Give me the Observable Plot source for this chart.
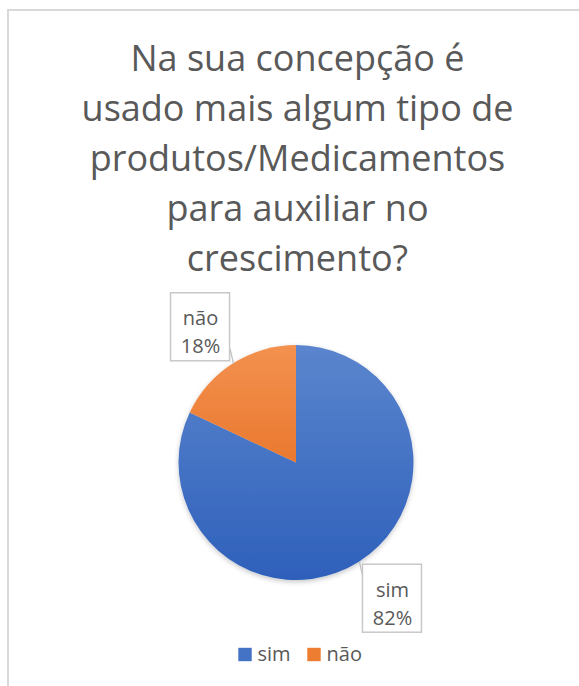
<!DOCTYPE html>
<html><head><meta charset="utf-8">
<script src="https://cdn.jsdelivr.net/npm/d3@7"></script>
<script src="https://cdn.jsdelivr.net/npm/@observablehq/plot@0.6"></script>
<style>
html,body{margin:0;padding:0;background:#fff;overflow:hidden;width:579px;height:686px}
#frame{position:absolute;left:7px;top:9px;width:640px;height:720px;border-left:2px solid #d9d9d9;border-top:2px solid #d9d9d9;box-sizing:border-box}
#title{position:absolute;left:0;top:33px;width:595px;text-align:center;font-family:"Open Sans";font-size:36px;line-height:50px;color:#595959;white-space:nowrap}
#chart{position:absolute;left:0;top:285px}
</style></head><body>
<div id="frame"></div>
<div id="title"></div>
<div id="chart"></div>
<script>
// ---- data ----
const titleLines = ["Na sua concepção é", "usado mais algum tipo de", "produtos/Medicamentos", "para auxiliar no", "crescimento?"];
const categories = ["sim", "não"];
const values = [82, 18];
const colors = ["#4472c4", "#ed7d31"];

// ---- style / layout constants ----
const gradStops = {"sim": ["#5b85cd", "#2e60bb"], "não": ["#f3914f", "#e0600f"]};
const R = 117.5;             // pie radius (px units of the scales)
const textColor = "#595959";
const font = "Open Sans";

document.getElementById("title").innerHTML = titleLines.join("<br>");

const arcs = d3.pie().sort(null).value(d => d.value)(categories.map((c, i) => ({cat: c, value: values[i]})));
const labels = arcs.map(a => {
  const mid = (a.startAngle + a.endAngle) / 2;
  const ex = R * Math.sin(mid), ey = -R * Math.cos(mid);
  const sx = Math.sign(ex), sy = Math.sign(ey);
  const bx = ex + sx * 33, by = ey + sy * 36.5;
  return {
    cat: a.data.cat, value: a.data.value,
    ex, ey, bx, by,
    lx: bx - sx * 29.5, ly: ey + sy * 15
  };
});

function pieMark(index, scales) {
  const cx = scales.x(0), cy = scales.y(0), r = scales.x(R) - scales.x(0);
  const g = d3.create("svg:g");
  const defs = g.append("defs");
  const f = defs.append("filter").attr("id", "pieshadow").attr("x", "-10%").attr("y", "-10%").attr("width", "120%").attr("height", "125%");
  f.append("feDropShadow").attr("dx", 0).attr("dy", 2).attr("stdDeviation", 2.5).attr("flood-color", "#000").attr("flood-opacity", 0.22);
  arcs.forEach((a, i) => {
    const base = scales.color(a.data.cat);
    const stops = gradStops[a.data.cat] || [base, base];
    const lg = defs.append("linearGradient").attr("id", "pg" + i).attr("gradientUnits", "userSpaceOnUse")
      .attr("x1", 0).attr("x2", 0).attr("y1", -r).attr("y2", r);
    lg.append("stop").attr("offset", 0).attr("stop-color", stops[0]);
    lg.append("stop").attr("offset", 1).attr("stop-color", stops[1]);
  });
  const pg = g.append("g").attr("transform", `translate(${cx},${cy})`).attr("filter", "url(#pieshadow)");
  const arc = d3.arc().innerRadius(0).outerRadius(r);
  arcs.forEach((a, i) => {
    pg.append("path").attr("d", arc(a)).attr("fill", `url(#pg${i})`);
  });
  return g.node();
}

const legY = 192;
const chart = Plot.plot({
  width: 579, height: 401,
  margin: 0,
  style: {fontFamily: font, background: "transparent"},
  x: {type: "linear", domain: [-296, 283], range: [0, 579], axis: null},
  y: {type: "linear", domain: [-177.5, 223.5], range: [0, 401], axis: null},
  color: {domain: categories, range: colors},
  marks: [
    pieMark,
    Plot.link(labels, {x1: "ex", y1: "ey", x2: "lx", y2: "ly", stroke: "#bfbfbf", strokeWidth: 1.3}),
    Plot.rect(labels, {x1: d => d.bx - 29.5, x2: d => d.bx + 29.5, y1: d => d.by - 34, y2: d => d.by + 34,
      fill: "white", stroke: "#c8c8c8", strokeWidth: 1.5}),
    Plot.text(labels, {x: "bx", y: "by", text: d => `${d.cat}\n${d.value}%`, fontSize: 20, lineHeight: 1.4,
      fill: textColor, fontFamily: font, dy: 3}),
    Plot.rect(categories, {x1: (d, i) => -57.7 + i * 69, x2: (d, i) => -57.7 + i * 69 + 13.4,
      y1: legY - 6.7, y2: legY + 6.7, fill: d => d}),
    Plot.text(categories, {x: (d, i) => -57.7 + i * 69 + 18.7, y: legY, text: d => d, textAnchor: "start",
      fontSize: 20, fill: textColor, fontFamily: font})
  ]
});
document.getElementById("chart").appendChild(chart);
</script>
</body></html>
